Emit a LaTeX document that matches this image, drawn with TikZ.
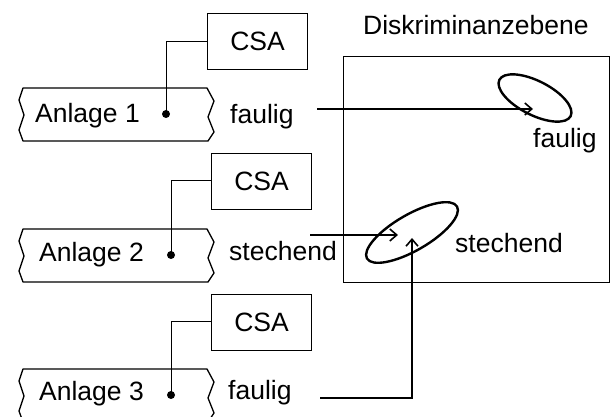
\documentclass[tikz,border=0pt]{standalone}
\usepackage{fontspec}
\setmainfont{Liberation Sans}
\usetikzlibrary{arrows.meta}

% Broken pipe section: top edge at height #1, 53 units tall
\newcommand\pipeoutline[1]{%
  \draw[pipeline] (23,#1) -- (207,#1) -- (214,{#1-13}) -- (208,{#1-29})
    -- (214,{#1-44}) -- (208,{#1-53}) -- (23,{#1-53}) -- (19,{#1-42})
    -- (24,{#1-27}) -- (19,{#1-12}) -- cycle;}

\begin{document}
\begin{tikzpicture}[x=1pt,y=1pt,
  every node/.style={font=\fontsize{26.5}{30}\selectfont, inner sep=0pt},
  lbl/.style={anchor=base west},
  sensor/.style={draw, line width=0.9pt, minimum width=100pt, minimum height=56pt},
  pipeline/.style={line width=1.3pt, line join=round},
  wire/.style={line width=1pt},
  flow/.style={line width=1.1pt, -{Straight Barb[length=7pt,width=12pt,line width=1.6pt]}},
  cluster/.style={line width=2.4pt},
  plane/.style={draw, line width=1pt},
  probe/.style={circle, fill=black, minimum size=8pt}]
\useasboundingbox (0,0) rectangle (613,417);
\clip (0,0) rectangle (613,417);

% pipe sections
\pipeoutline{329}
\pipeoutline{188}
\pipeoutline{48}

\node[lbl] (a1) at (35,294) {Anlage 1};
\node[lbl] (a2) at (39,155) {Anlage 2};
\node[lbl] (a3) at (39,16) {Anlage 3};

% sensor arrays and sampling points
\node[sensor] (csa1) at (257.5,375.5) {CSA};
\node[sensor] (csa2) at (261.5,236) {CSA};
\node[sensor] (csa3) at (261.5,95) {CSA};

\node[probe] (p1) at (166,303) {};
\node[probe] (p2) at (171,162) {};
\node[probe] (p3) at (171,22) {};

\draw[wire] (p1.center) |- (csa1.west);
\draw[wire] (p2.center) |- (csa2.west);
\draw[wire] (p3.center) |- (csa3.west);

% classification results
\node[lbl] (r1) at (230,293) {faulig};
\node[lbl] (r2) at (229,156) {stechend};
\node[lbl] (r3) at (228,17) {faulig};

% discriminant plane
\node[lbl] (title) at (363,382) {Diskriminanzebene};
\node[plane, minimum width=266pt, minimum height=226pt] (de) at (476,247) {};

\coordinate (cf) at (535,319);
\coordinate (cs) at (412,184.5);
\draw[cluster, rotate around={-27:(cf)}] (cf) ellipse [x radius=40, y radius=17];
\draw[cluster, rotate around={30:(cs)}] (cs) ellipse [x radius=52, y radius=18];

\node[lbl] (lf) at (533,269) {faulig};
\node[lbl] (ls) at (455,164) {stechend};

% mapping arrows
\coordinate (s1) at (317,308);
\coordinate (t1) at (533,308);
\coordinate (s2) at (310,182);
\coordinate (t2) at (398,182);
\coordinate (s3) at (320,19);
\coordinate (t3) at (412,179);
\draw[flow] (s1) -- (t1);
\draw[flow] (s2) -- (t2);
\draw[flow] (s3) -| (t3);
\end{tikzpicture}
\end{document}
